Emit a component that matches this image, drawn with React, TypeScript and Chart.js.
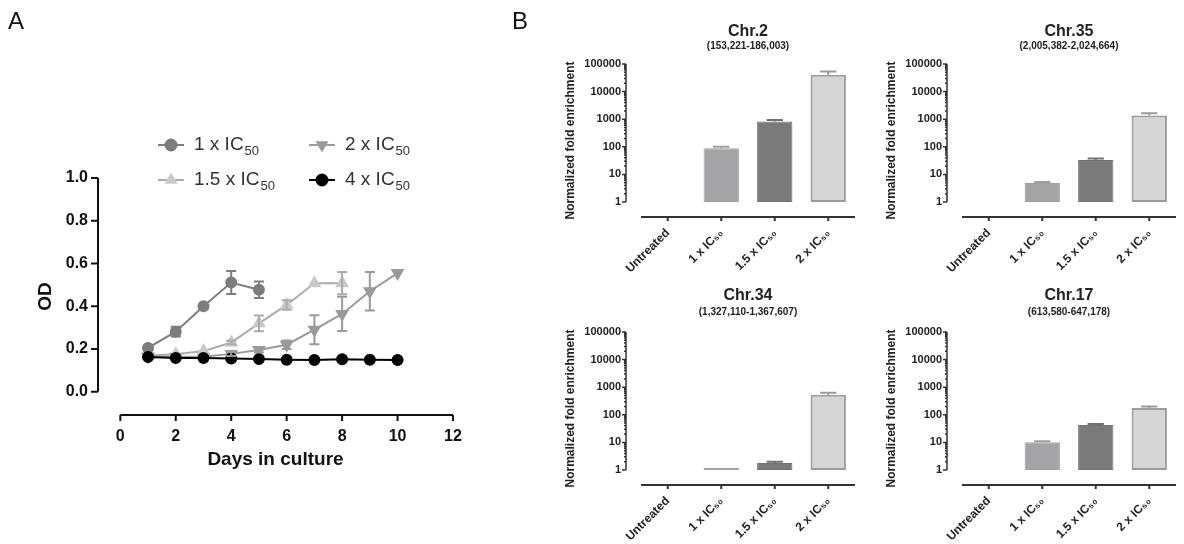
import { useEffect, useRef } from "react"
import { Chart, registerables } from "chart.js"
import { drawPoint } from "chart.js/helpers"

Chart.register(...registerables)

const FONT = "Arial, 'Liberation Sans', Helvetica, sans-serif"
Chart.defaults.font.family = FONT

// ---- Panel A: growth curves ----
const days = [1, 2, 3, 4, 5, 6, 7, 8, 9, 10]
const seriesNames = ["1 x IC₅₀", "1.5 x IC₅₀", "2 x IC₅₀", "4 x IC₅₀"]
const od1x = [0.205, 0.281, 0.4, 0.511, 0.477]
const err1x = [0.008, 0.023, 0.005, 0.054, 0.039]
const od15x = [0.17, 0.175, 0.19, 0.23, 0.32, 0.406, 0.508, 0.508]
const err15x = [0, 0, 0, 0.008, 0.037, 0.022, 0, 0.052]
const od2x = [0.165, 0.163, 0.164, 0.177, 0.195, 0.22, 0.29, 0.364, 0.47, 0.555]
const err2x = [0, 0, 0, 0.01, 0.012, 0.02, 0.068, 0.08, 0.09, 0]
const od4x = [0.162, 0.158, 0.158, 0.155, 0.153, 0.15, 0.148, 0.152, 0.15, 0.148]
const odTicks = [0, 0.2, 0.4, 0.6, 0.8, 1.0]
const dayTicks = [0, 2, 4, 6, 8, 10, 12]

// ---- Panel B: fold enrichment ----
const treatments = ["Untreated", "1 x IC₅₀", "1.5 x IC₅₀", "2 x IC₅₀"]
const chr2Fold = [1, 88, 820, 41000]
const chr2Err = [0, 12, 120, 13000]
const chr35Fold = [1, 4.9, 33, 1350]
const chr35Err = [0, 0.4, 5, 300]
const chr34Fold = [1, 1.03, 1.8, 530]
const chr34Err = [0, 0, 0.2, 100]
const chr17Fold = [1, 10.2, 43, 178]
const chr17Err = [0, 0.8, 3, 20]
const logTicks = [1, 10, 100, 1000, 10000, 100000]

const barFill = ["rgba(0,0,0,0)", "#a4a4a6", "#7a7a7a", "#d5d5d5"]
const barBorder = ["rgba(0,0,0,0)", "#a0a0a2", "#727272", "#9b9b9b"]
const barBorderWidth = [0, 1, 1, 2]

const growthPlugin = {
  id: "growthExtras",
  afterDatasetsDraw(chart: any) {
    const { ctx, chartArea, scales } = chart
    const { x, y } = scales
    ctx.save()
    // error bars
    chart.data.datasets.forEach((ds: any) => {
      if (!ds.errors) return
      ctx.strokeStyle = ds.borderColor
      ctx.lineWidth = 2
      ds.errors.forEach((e: number, i: number) => {
        if (!e) return
        const p = ds.data[i]
        const px = x.getPixelForValue(p.x)
        const t = y.getPixelForValue(p.y + e)
        const b = y.getPixelForValue(p.y - e)
        ctx.beginPath()
        ctx.moveTo(px, t)
        ctx.lineTo(px, b)
        ctx.moveTo(px - 5, t)
        ctx.lineTo(px + 5, t)
        ctx.moveTo(px - 5, b)
        ctx.lineTo(px + 5, b)
        ctx.stroke()
      })
    })
    // axes
    ctx.strokeStyle = "#111"
    ctx.lineWidth = 2
    ctx.beginPath()
    const left = chartArea.left
    ctx.moveTo(left, y.getPixelForValue(odTicks[0]))
    ctx.lineTo(left, y.getPixelForValue(odTicks[odTicks.length - 1]))
    odTicks.forEach((v) => {
      const py = y.getPixelForValue(v)
      ctx.moveTo(left - 7, py)
      ctx.lineTo(left, py)
    })
    const bottom = chartArea.bottom
    ctx.moveTo(x.getPixelForValue(dayTicks[0]), bottom)
    ctx.lineTo(x.getPixelForValue(dayTicks[dayTicks.length - 1]), bottom)
    dayTicks.forEach((v) => {
      const px = x.getPixelForValue(v)
      ctx.moveTo(px, bottom)
      ctx.lineTo(px, bottom + 6)
    })
    ctx.stroke()

    // legend, two columns
    const slots = [
      [158, 145],
      [158, 180],
      [309, 145],
      [309, 180],
    ]
    chart.data.datasets.forEach((ds: any, i: number) => {
      const [lx, ly] = slots[i]
      ctx.strokeStyle = ds.borderColor
      ctx.lineWidth = 2
      ctx.beginPath()
      ctx.moveTo(lx, ly)
      ctx.lineTo(lx + 26, ly)
      ctx.stroke()
      ctx.fillStyle = ds.pointBackgroundColor
      ctx.strokeStyle = ds.pointBackgroundColor
      drawPoint(ctx, { pointStyle: ds.pointStyle, radius: 5.5, rotation: ds.pointRotation || 0, borderWidth: 1 }, lx + 13, ly)
      const main = ds.label.replace("₅₀", "")
      ctx.fillStyle = "#333"
      ctx.textBaseline = "middle"
      ctx.textAlign = "left"
      ctx.font = `19px ${FONT}`
      ctx.fillText(main, lx + 36, ly)
      const w = ctx.measureText(main).width
      ctx.font = `13px ${FONT}`
      ctx.fillText("50", lx + 37 + w, ly + 6)
    })
    ctx.restore()
  },
}

function GrowthChart() {
  const chartRef = useRef<HTMLCanvasElement>(null)

  useEffect(() => {
    if (!chartRef.current) return
    const specs = [
      { values: od1x, errors: err1x, line: "#7d7d7d", point: "#7d7d7d", style: "circle", rot: 0, order: 1 },
      { values: od15x, errors: err15x, line: "#ababab", point: "#c9c9c9", style: "triangle", rot: 0, order: 2 },
      { values: od2x, errors: err2x, line: "#9a9a9a", point: "#9a9a9a", style: "triangle", rot: 180, order: 3 },
      { values: od4x, errors: null, line: "#000000", point: "#000000", style: "circle", rot: 0, order: 0 },
    ]
    const chart = new Chart(chartRef.current, {
      type: "line",
      data: {
        datasets: specs.map((s, i) => ({
          label: seriesNames[i],
          data: s.values.map((v, j) => ({ x: days[j], y: v })),
          errors: s.errors,
          borderColor: s.line,
          borderWidth: 2,
          backgroundColor: s.point,
          pointBackgroundColor: s.point,
          pointBorderColor: s.point,
          pointStyle: s.style,
          pointRotation: s.rot,
          pointRadius: s.style === "circle" ? 5 : 6,
          order: s.order,
        })) as any,
      },
      options: {
        responsive: false,
        animation: false,
        layout: { padding: { left: 0, right: 27, top: 178, bottom: 69 } },
        plugins: { legend: { display: false }, tooltip: { enabled: false } },
        scales: {
          x: {
            type: "linear",
            min: -0.805,
            max: 12,
            afterBuildTicks: (s: any) => {
              s.ticks = dayTicks.map((v) => ({ value: v }))
            },
            afterFit: (s: any) => {
              s.height = 60
            },
            grid: { display: false, drawTicks: false },
            border: { display: false },
            ticks: { padding: 12, color: "#111", font: { size: 16, weight: "bold" } },
            title: {
              display: true,
              text: "Days in culture",
              color: "#111",
              font: { size: 19, weight: "bold" },
              padding: { top: 0, bottom: 4 },
            },
          },
          y: {
            type: "linear",
            min: -0.109,
            max: 1.0,
            afterBuildTicks: (s: any) => {
              s.ticks = odTicks.map((v) => ({ value: v }))
            },
            afterFit: (s: any) => {
              s.width = 98
            },
            grid: { display: false, drawTicks: false },
            border: { display: false },
            ticks: {
              padding: 10,
              color: "#111",
              font: { size: 16, weight: "bold" },
              callback: (v: any) => Number(v).toFixed(1),
            },
            title: {
              display: true,
              text: "OD",
              color: "#111",
              font: { size: 19, weight: "bold" },
              padding: { top: 34, bottom: 0 },
            },
          },
        },
      },
      plugins: [growthPlugin],
    })
    return () => chart.destroy()
  }, [])

  return <canvas ref={chartRef} width={480} height={544} style={{ position: "absolute", left: 0, top: 0 }} />
}

const barPlugin = {
  id: "barExtras",
  afterDatasetsDraw(chart: any) {
    const { ctx, chartArea, scales } = chart
    const { y } = scales
    const ds: any = chart.data.datasets[0]
    const meta = chart.getDatasetMeta(0)
    ctx.save()
    // upper error bars
    meta.data.forEach((el: any, i: number) => {
      const e = ds.errors[i]
      if (!e) return
      const t = y.getPixelForValue(ds.data[i] + e)
      const hw = el.width * 0.23
      ctx.strokeStyle = barBorder[i]
      ctx.lineWidth = 2
      ctx.beginPath()
      ctx.moveTo(el.x, el.y)
      ctx.lineTo(el.x, t)
      ctx.moveTo(el.x - hw, t)
      ctx.lineTo(el.x + hw, t)
      ctx.stroke()
    })
    // y axis, offset to the left of the bars
    const ax = chartArea.left - 15
    ctx.strokeStyle = "#333"
    ctx.lineWidth = 1.5
    ctx.beginPath()
    ctx.moveTo(ax, y.getPixelForValue(logTicks[0]))
    ctx.lineTo(ax, y.getPixelForValue(logTicks[logTicks.length - 1]))
    logTicks.forEach((v, k) => {
      const py = y.getPixelForValue(v)
      ctx.moveTo(ax - 4, py)
      ctx.lineTo(ax, py)
      if (k < logTicks.length - 1) {
        for (let m = 2; m <= 9; m++) {
          const my = y.getPixelForValue(v * m)
          ctx.moveTo(ax - 2, my)
          ctx.lineTo(ax, my)
        }
      }
    })
    ctx.stroke()
    // x axis
    const b = chartArea.bottom
    ctx.lineWidth = 2
    ctx.beginPath()
    ctx.moveTo(chartArea.left, b)
    ctx.lineTo(chartArea.right, b)
    meta.data.forEach((el: any) => {
      ctx.moveTo(el.x, b)
      ctx.lineTo(el.x, b + 4)
    })
    ctx.stroke()
    ctx.restore()
  },
}

type BarProps = {
  title: string
  subtitle: string
  values: number[]
  errors: number[]
  left: number
  top: number
  lowerRow?: boolean
}

const BAR_W = 347
const BAR_H = 280

function FoldChart({ title, subtitle, values, errors, left, top, lowerRow }: BarProps) {
  const chartRef = useRef<HTMLCanvasElement>(null)

  useEffect(() => {
    if (!chartRef.current) return
    const chart = new Chart(chartRef.current, {
      type: "bar",
      data: {
        labels: treatments,
        datasets: [
          {
            data: values,
            errors,
            base: 1,
            backgroundColor: barFill,
            borderColor: barBorder,
            borderWidth: barBorderWidth,
            borderSkipped: false,
            minBarLength: 2,
            barPercentage: 0.66,
            categoryPercentage: 1,
          } as any,
        ],
      },
      options: {
        responsive: false,
        animation: false,
        layout: { padding: { left: 0, right: 12, top: lowerRow ? 18 : 22, bottom: 0 } },
        plugins: {
          legend: { display: false },
          tooltip: { enabled: false },
          title: {
            display: true,
            text: title,
            fullSize: false,
            color: "#222",
            font: { size: 16, weight: "bold", lineHeight: 1.15 },
            padding: { top: 0, bottom: lowerRow ? 2 : 0 },
          },
          subtitle: {
            display: true,
            text: subtitle,
            fullSize: false,
            color: "#222",
            font: { size: 10, weight: "bold", lineHeight: 1.2 },
            padding: { top: 0, bottom: lowerRow ? 13.6 : 11.6 },
          },
        },
        scales: {
          x: {
            type: "category",
            afterFit: (s: any) => {
              s.height = BAR_H - 217
            },
            grid: { display: false, drawTicks: false },
            border: { display: false },
            ticks: {
              minRotation: 45,
              maxRotation: 45,
              autoSkip: false,
              padding: 9,
              color: "#222",
              font: { size: 12, weight: "bold" },
            },
          },
          y: {
            type: "logarithmic",
            min: 0.286,
            max: 100000,
            afterBuildTicks: (s: any) => {
              s.ticks = logTicks.map((v) => ({ value: v }))
            },
            afterFit: (s: any) => {
              s.width = 121
            },
            grid: { display: false, drawTicks: false },
            border: { display: false },
            ticks: {
              autoSkip: false,
              padding: 20,
              color: "#222",
              font: { size: 11, weight: "bold" },
              callback: (v: any) => String(v),
            },
            title: {
              display: true,
              text: "Normalized fold enrichment",
              color: "#222",
              font: { size: 12, weight: "bold" },
              padding: { top: 43, bottom: 0 },
            },
          },
        },
      },
      plugins: [barPlugin],
    })
    return () => chart.destroy()
  }, [title, subtitle, values, errors, lowerRow])

  return (
    <canvas
      ref={chartRef}
      width={BAR_W}
      height={BAR_H}
      style={{ position: "absolute", left, top }}
    />
  )
}

export default function App() {
  const label = { position: "absolute" as const, fontFamily: FONT, fontSize: 24, color: "#111", lineHeight: "24px" }
  return (
    <div
      style={{
        position: "absolute",
        left: 0,
        top: 0,
        width: 1184,
        height: 544,
        overflow: "hidden",
        background: "#fff",
      }}
    >
      <GrowthChart />
      <FoldChart title="Chr.2" subtitle="(153,221-186,003)" values={chr2Fold} errors={chr2Err} left={520} top={0} />
      <FoldChart title="Chr.35" subtitle="(2,005,382-2,024,664)" values={chr35Fold} errors={chr35Err} left={841} top={0} />
      <FoldChart title="Chr.34" subtitle="(1,327,110-1,367,607)" values={chr34Fold} errors={chr34Err} left={520} top={268} lowerRow />
      <FoldChart title="Chr.17" subtitle="(613,580-647,178)" values={chr17Fold} errors={chr17Err} left={841} top={268} lowerRow />
      <div style={{ ...label, left: 8, top: 9 }}>A</div>
      <div style={{ ...label, left: 512, top: 9 }}>B</div>
    </div>
  )
}
